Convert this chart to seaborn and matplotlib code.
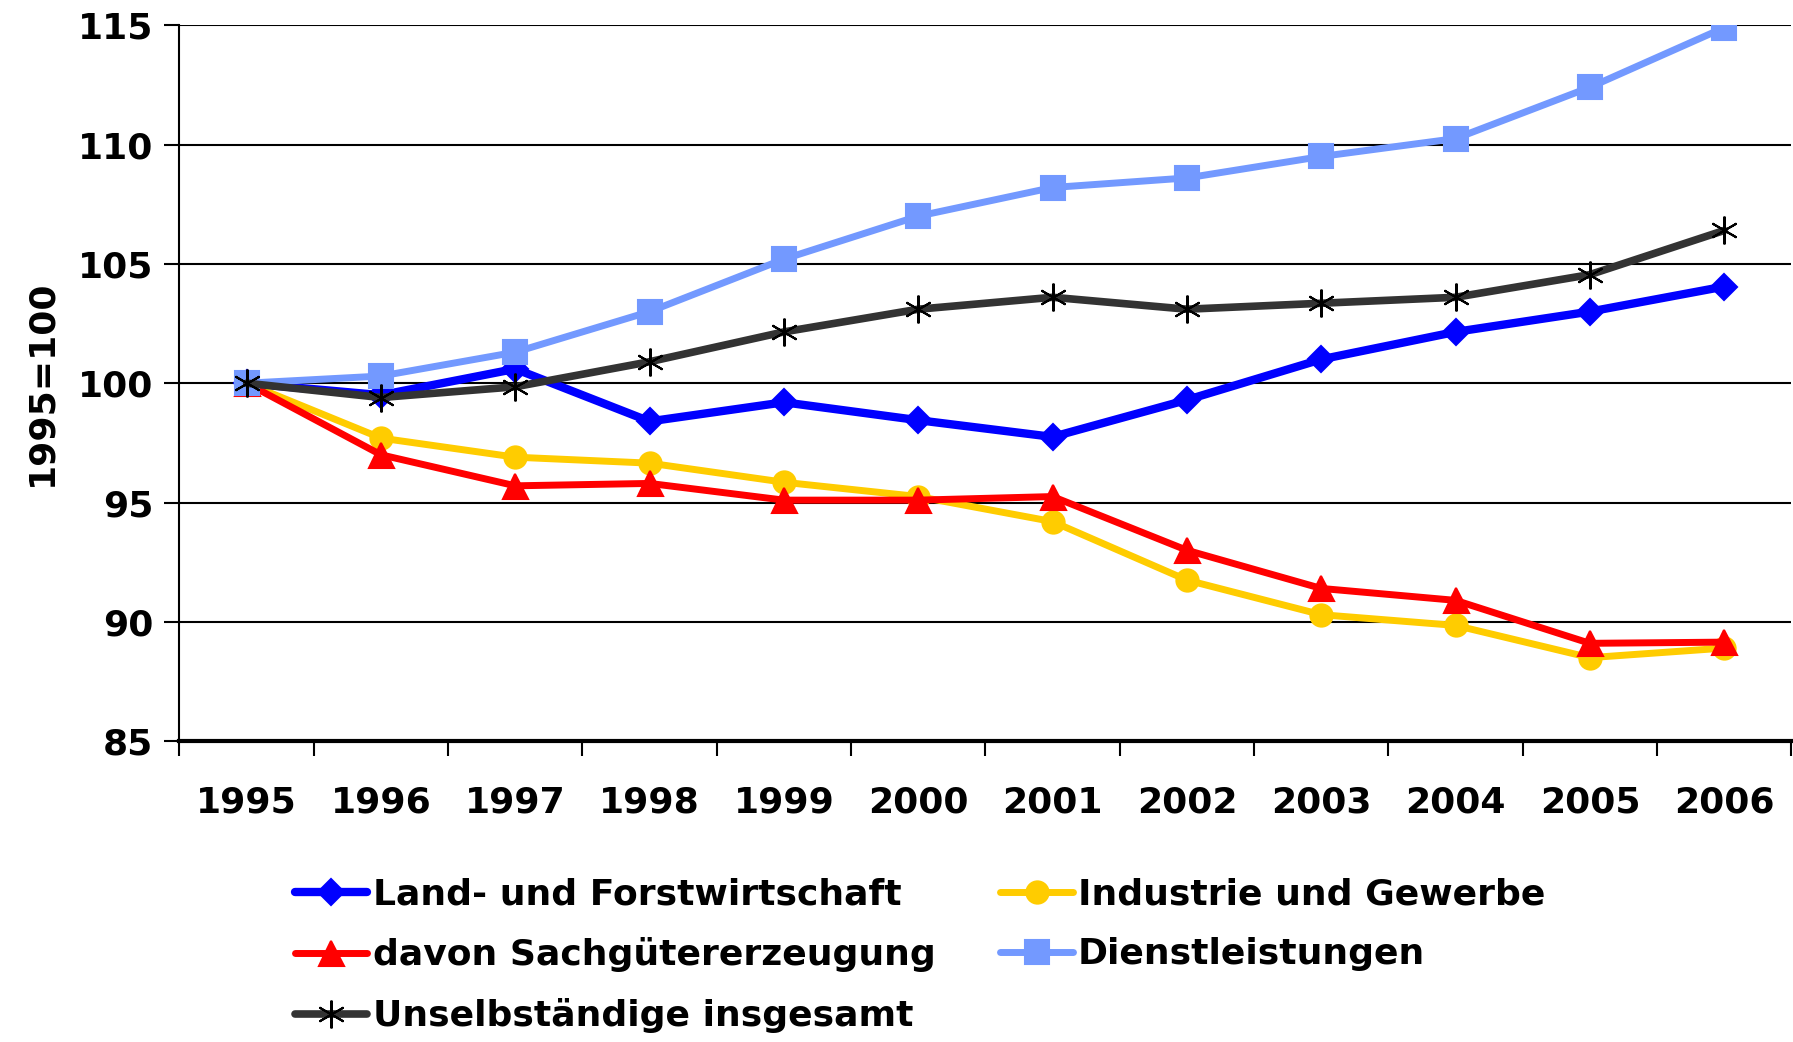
import matplotlib
matplotlib.use("Agg")
import matplotlib.pyplot as plt
import seaborn as sns
import pandas as pd
from matplotlib.ticker import FixedLocator

years = ["1995", "1996", "1997", "1998", "1999", "2000", "2001", "2002", "2003", "2004", "2005", "2006"]

land = [100.0, 99.5, 100.6, 98.4, 99.2, 98.45, 97.75, 99.3, 101.0, 102.15, 103.0, 104.05]
industrie = [100.0, 97.7, 96.9, 96.65, 95.85, 95.25, 94.2, 91.75, 90.3, 89.85, 88.5, 88.9]
sachgueter = [100.0, 97.0, 95.7, 95.8, 95.1, 95.1, 95.25, 93.0, 91.4, 90.9, 89.1, 89.15]
dienst = [100.0, 100.3, 101.3, 103.0, 105.2, 107.0, 108.2, 108.6, 109.5, 110.25, 112.4, 114.9]
unselb = [100.0, 99.4, 99.85, 100.9, 102.15, 103.1, 103.6, 103.1, 103.35, 103.6, 104.55, 106.4]

names = ["Land- und Forstwirtschaft", "Industrie und Gewerbe", "davon Sachgütererzeugung",
         "Dienstleistungen", "Unselbständige insgesamt"]
series = [land, industrie, sachgueter, dienst, unselb]
yticks = [85, 90, 95, 100, 105, 110, 115]

sns.set_style("white")
plt.rcParams['font.family'] = ['DejaVu Sans']
plt.rcParams['text.color'] = 'black'
plt.rcParams['axes.labelcolor'] = 'black'
plt.rcParams['xtick.color'] = 'black'
plt.rcParams['ytick.color'] = 'black'

styles = {
    names[0]: dict(color="#0000FF", marker="D", ms=13, lw=6, mec="#0000FF"),
    names[1]: dict(color="#FFCC00", marker="o", ms=16, lw=5, mec="#FFCC00"),
    names[2]: dict(color="#FF0000", marker="^", ms=18, lw=5, mec="#FF0000"),
    names[3]: dict(color="#7399FF", marker="s", ms=17, lw=5, mec="#7399FF"),
    names[4]: dict(color="#333333", marker=(6, 2, 0), ms=20, lw=5.5, mec="#000000"),
}

fig = plt.figure(figsize=(17.93, 10.42), dpi=100)
ax = fig.add_axes([0.1001, 0.2887, 0.899, 0.6871])

handles = {}
for name, vals in zip(names, series):
    df = pd.DataFrame({"Jahr": years, "Wert": vals})
    st = styles[name]
    sns.lineplot(data=df, x="Jahr", y="Wert", ax=ax, sort=False, color=st["color"],
                 linewidth=st["lw"], marker=st["marker"], markersize=st["ms"],
                 markeredgecolor=st["mec"], markeredgewidth=1.5, label=name, legend=False)
    handles[name] = ax.lines[-1]

ax.set_xlim(-0.5, len(years) - 0.5)
ax.set_ylim(85, 115)
ax.set_yticks(yticks)
ax.set_yticklabels([str(v) for v in yticks], fontsize=26, fontweight="bold")
ax.set_xticks(range(len(years)))
ax.set_xticklabels(years, fontsize=26, fontweight="bold")
ax.xaxis.set_minor_locator(FixedLocator([i - 0.5 for i in range(len(years) + 1)]))
ax.tick_params(axis="x", which="major", bottom=True, length=0, pad=32)
ax.tick_params(axis="x", which="minor", bottom=True, length=11, width=1.5, color="black", direction="out")
ax.tick_params(axis="y", which="major", left=True, length=11, width=1.5, color="black", direction="out", pad=8)
ax.yaxis.grid(True, color="black", linewidth=1.5)
ax.set_axisbelow(True)
for s in ["top", "right"]:
    ax.spines[s].set_visible(False)
ax.spines["left"].set_color("black")
ax.spines["left"].set_linewidth(1.5)
ax.spines["bottom"].set_color("black")
ax.spines["bottom"].set_linewidth(3)
ax.set_xlabel("")
ax.set_ylabel("1995=100", fontsize=26, fontweight="bold", labelpad=14, color="black")

order = [names[0], names[2], names[4], names[1], names[3]]
leg = fig.legend([handles[n] for n in order], order, ncol=2, loc="upper left",
                 bbox_to_anchor=(0.1565, 0.172), frameon=False, fontsize=26,
                 handlelength=2.0, handletextpad=0.15, columnspacing=1.8,
                 labelspacing=0.72, borderaxespad=0)
for t in leg.get_texts():
    t.set_fontweight("bold")
    t.set_color("black")

fig.savefig("out.png", dpi=100)
